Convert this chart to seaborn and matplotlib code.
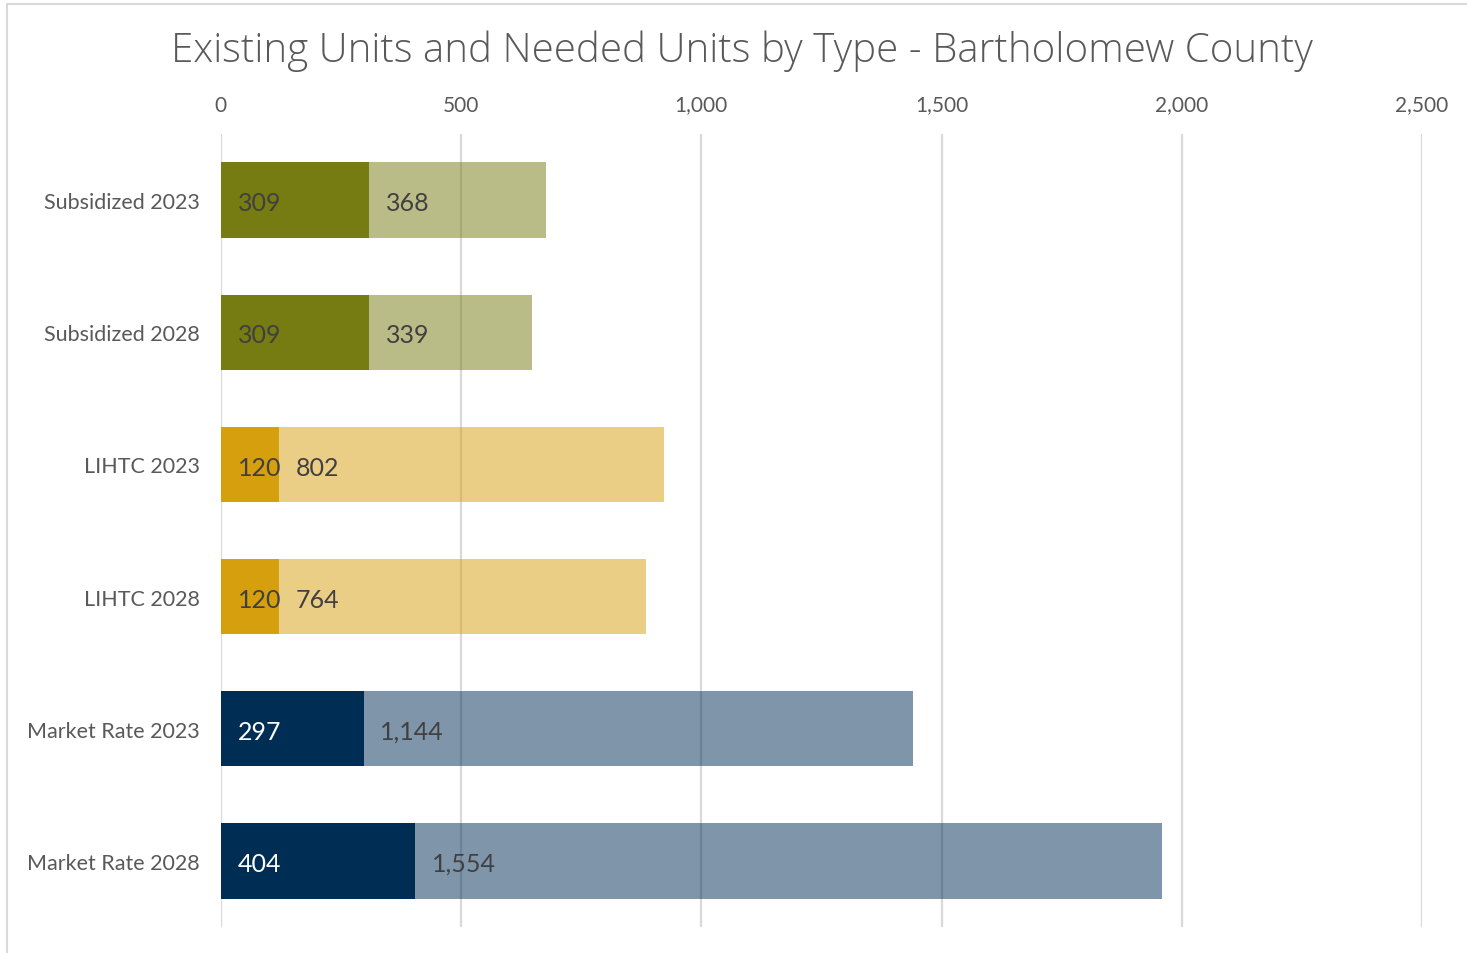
import pandas as pd
import matplotlib.pyplot as plt
import seaborn as sns
from matplotlib.patches import Rectangle

# datos del grafico
categorias = ['Subsidized 2023', 'Subsidized 2028', 'LIHTC 2023', 'LIHTC 2028',
              'Market Rate 2023', 'Market Rate 2028']
existentes = [309, 309, 120, 120, 297, 404]
necesarios = [368, 339, 802, 764, 1144, 1554]
colores = ['#767B12', '#767B12', '#D69F0E', '#D69F0E', '#002D54', '#002D54']
ticks_x = [0, 500, 1000, 1500, 2000, 2500]

df = pd.DataFrame({'categoria': categorias, 'existentes': existentes, 'necesarios': necesarios})
df['total'] = df['existentes'] + df['necesarios']

sns.set_style('white')
plt.rcParams['font.family'] = ['Lato', 'DejaVu Sans']

fig = plt.figure(figsize=(14.67, 9.54), dpi=100)
ax = fig.add_axes([0.1506, 0.0273, 0.8187, 0.8312])

# lineas de grilla detras de las barras
for t in ticks_x:
    ax.axvline(t, color='#D9D9D9', lw=1.6, zorder=0)

paleta = dict(zip(categorias, colores))
sns.barplot(data=df, y='categoria', x='total', hue='categoria', palette=paleta,
            alpha=0.5, width=0.57, legend=False, ax=ax, saturation=1, zorder=2,
            linewidth=0)
sns.barplot(data=df, y='categoria', x='existentes', hue='categoria', palette=paleta,
            width=0.57, legend=False, ax=ax, saturation=1, zorder=3, linewidth=0)

# etiquetas de valores
for i, (e, n) in enumerate(zip(existentes, necesarios)):
    col_e = 'white' if colores[i] == '#002D54' else '#404040'
    ax.text(35, i + 0.02, f'{e:,}', va='center', ha='left', fontsize=18, color=col_e, zorder=5)
    ax.text(e + 35, i + 0.02, f'{n:,}', va='center', ha='left', fontsize=18, color='#404040', zorder=5)

ax.set_xlim(0, 2500)
ax.set_ylim(5.5, -0.5)
ax.set_xticks(ticks_x)
ax.set_xticklabels([f'{t:,}' for t in ticks_x])
ax.xaxis.tick_top()
ax.tick_params(axis='x', length=0, pad=14, labelsize=15, labelcolor='#595959')
ax.tick_params(axis='y', length=0, pad=15, labelsize=15.5, labelcolor='#595959')
ax.set_xlabel('')
ax.set_ylabel('')
for s in ax.spines.values():
    s.set_visible(False)

fig.text(0.506, 0.946, 'Existing Units and Needed Units by Type - Bartholomew County',
         ha='center', va='center', fontsize=29, color='#595959',
         family=['Open Sans', 'DejaVu Sans'], fontweight='light')

# borde del grafico
fig.patches.append(Rectangle((0.005, -0.02), 1.1, 1.015, transform=fig.transFigure,
                             fill=False, edgecolor='#D9D9D9', lw=1.5))

fig.savefig('out.png', dpi=100)
